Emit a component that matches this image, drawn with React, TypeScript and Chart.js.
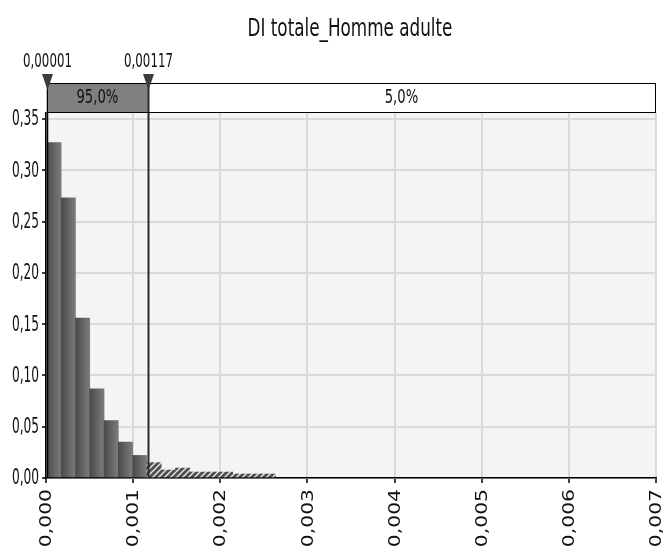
import React, { useEffect, useRef } from 'react';
import { Chart, registerables } from 'chart.js';

Chart.register(...registerables);

const TITLE = 'DI totale_Homme adulte';
const binStarts = [0.00001, 0.000174, 0.000338, 0.000502, 0.000666, 0.00083, 0.000994, 0.001158, 0.001322, 0.001486, 0.00165, 0.001814, 0.001978, 0.002142, 0.002306, 0.00247];
const binEnds = [0.000174, 0.000338, 0.000502, 0.000666, 0.00083, 0.000994, 0.001158, 0.001322, 0.001486, 0.00165, 0.001814, 0.001978, 0.002142, 0.002306, 0.00247, 0.002634];
const probabilities = [0.327, 0.273, 0.156, 0.087, 0.056, 0.035, 0.022, 0.015, 0.0078, 0.0097, 0.0058, 0.0058, 0.0058, 0.0039, 0.0039, 0.0039];
const xTickValues = [0, 0.001, 0.002, 0.003, 0.004, 0.005, 0.006, 0.007];
const yTickValues = [0, 0.05, 0.1, 0.15, 0.2, 0.25, 0.3, 0.35];
const markerValues = [0.00001, 0.00117];
const markerLabels = ['0,00001', '0,00117'];
const bandLabels = ['95,0%', '5,0%'];

const FONT = '"DejaVu Sans", Verdana, sans-serif';

function drawSquashed(ctx: CanvasRenderingContext2D, text: string, x: number, y: number, size: number, sx: number, align: CanvasTextAlign, baseline: CanvasTextBaseline, color = '#111') {
  ctx.save();
  ctx.font = `${size}px ${FONT}`;
  ctx.fillStyle = color;
  ctx.textAlign = align;
  ctx.textBaseline = baseline;
  ctx.translate(x, y);
  ctx.scale(sx, 1);
  ctx.fillText(text, 0, 0);
  ctx.restore();
}

export default function App() {
  const ref = useRef<HTMLCanvasElement | null>(null);

  useEffect(() => {
    document.body.style.margin = '0';
    const canvas = ref.current;
    if (!canvas) return;

    const pc = document.createElement('canvas');
    pc.width = 6;
    pc.height = 6;
    const p = pc.getContext('2d')!;
    p.fillStyle = '#505050';
    p.fillRect(0, 0, 6, 6);
    p.strokeStyle = 'rgba(255,255,255,0.9)';
    p.lineWidth = 1.3;
    p.beginPath();
    p.moveTo(0, 6); p.lineTo(6, 0);
    p.moveTo(-1, 1); p.lineTo(1, -1);
    p.moveTo(5, 7); p.lineTo(7, 5);
    p.stroke();
    const hatch = canvas.getContext('2d')!.createPattern(pc, 'repeat');

    const points = probabilities.map((v, i) => ({ x: (binStarts[i] + binEnds[i]) / 2, y: v }));

    const bgPlugin = {
      id: 'bg',
      beforeDraw(chart: any) {
        const { ctx, chartArea } = chart;
        ctx.save();
        ctx.fillStyle = '#ffffff';
        ctx.fillRect(0, 0, chart.width, chart.height);
        ctx.fillStyle = '#f4f4f4';
        ctx.fillRect(chartArea.left, chartArea.top, chartArea.right - chartArea.left, chartArea.bottom - chartArea.top);
        ctx.restore();
      },
    };

    const BAND_TOP = 83;
    const BAND_BOTTOM = 112;

    const overlayPlugin = {
      id: 'overlay',
      afterDatasetsDraw(chart: any) {
        const { ctx, chartArea, scales } = chart;
        const xs = scales.x;
        ctx.save();
        markerValues.forEach((v, i) => {
          const px = Math.round(xs.getPixelForValue(v)) + 0.5;
          ctx.strokeStyle = i === 0 ? '#000' : '#2a2a2a';
          ctx.lineWidth = i === 0 ? 1.5 : 2;
          ctx.beginPath();
          ctx.moveTo(px, BAND_TOP);
          ctx.lineTo(px, chartArea.bottom);
          ctx.stroke();
        });
        ctx.restore();
      },
      afterDraw(chart: any) {
        const { ctx, chartArea, scales } = chart;
        const xs = scales.x;
        const ys = scales.y;
        // title
        drawSquashed(ctx, TITLE, 350, 36, 24, 0.7, 'center', 'alphabetic', '#111');
        // band
        const m0 = xs.getPixelForValue(markerValues[0]);
        const m1 = xs.getPixelForValue(markerValues[1]);
        const right = chartArea.right - 1;
        ctx.save();
        ctx.fillStyle = '#ffffff';
        ctx.fillRect(m0, BAND_TOP, right - m0, BAND_BOTTOM - BAND_TOP);
        ctx.fillStyle = '#808080';
        ctx.fillRect(m0, BAND_TOP, m1 - m0, BAND_BOTTOM - BAND_TOP);
        ctx.strokeStyle = '#000';
        ctx.lineWidth = 1;
        ctx.strokeRect(Math.round(m0) + 0.5, BAND_TOP + 0.5, Math.round(right - m0), BAND_BOTTOM - BAND_TOP);
        ctx.beginPath();
        ctx.lineWidth = 2;
        ctx.strokeStyle = '#2a2a2a';
        ctx.moveTo(Math.round(m1) + 0.5, BAND_TOP);
        ctx.lineTo(Math.round(m1) + 0.5, BAND_BOTTOM);
        ctx.stroke();
        ctx.restore();
        drawSquashed(ctx, bandLabels[0], (m0 + m1) / 2, 98, 20, 0.66, 'center', 'middle');
        drawSquashed(ctx, bandLabels[1], (m1 + right) / 2, 98, 20, 0.66, 'center', 'middle');
        // markers
        markerValues.forEach((v, i) => {
          const px = Math.round(xs.getPixelForValue(v)) + 0.5;
          ctx.save();
          ctx.fillStyle = '#3c3c3c';
          ctx.beginPath();
          ctx.moveTo(px - 5.5, 74);
          ctx.lineTo(px + 5.5, 74);
          ctx.lineTo(px, 90);
          ctx.closePath();
          ctx.fill();
          ctx.restore();
          drawSquashed(ctx, markerLabels[i], px, 67, 20, 0.59, 'center', 'alphabetic');
        });
        // y labels
        yTickValues.forEach((v) => {
          const py = ys.getPixelForValue(v);
          drawSquashed(ctx, v.toFixed(2).replace('.', ','), chartArea.left - 7, py + 1, 21, 0.58, 'right', 'middle');
        });
        // x labels (rotated, reading upward)
        xTickValues.forEach((v) => {
          const px = xs.getPixelForValue(v);
          ctx.save();
          ctx.font = `16px ${FONT}`;
          ctx.fillStyle = '#111';
          ctx.textAlign = 'right';
          ctx.textBaseline = 'middle';
          ctx.translate(px + 1, chartArea.bottom + 11);
          ctx.rotate(-Math.PI / 2);
          ctx.scale(1.27, 1);
          ctx.fillText(v.toFixed(3).replace('.', ','), 0, 0);
          ctx.restore();
        });
      },
    };

    const chart = new Chart(canvas, {
      type: 'bar',
      data: {
        datasets: [
          {
            data: points as any,
            borderWidth: 0,
            barPercentage: 1,
            categoryPercentage: 1,
            backgroundColor: (c: any) => {
              const i = c.dataIndex;
              const xs = c.chart.scales?.x;
              if (i === undefined || !xs) return '#666666';
              const center = (binStarts[i] + binEnds[i]) / 2;
              if (center > markerValues[1]) return hatch as any;
              const l = xs.getPixelForValue(binStarts[i]);
              const r = xs.getPixelForValue(binEnds[i]);
              if (!isFinite(l) || !isFinite(r)) return '#666666';
              const g = c.chart.ctx.createLinearGradient(l, 0, r, 0);
              g.addColorStop(0, '#4a4a4a');
              g.addColorStop(1, '#7c7c7c');
              return g;
            },
          },
        ],
      },
      options: {
        animation: false,
        responsive: true,
        maintainAspectRatio: false,
        layout: { padding: { top: 113, right: 8, left: 0, bottom: 0 } },
        plugins: {
          legend: { display: false },
          tooltip: { enabled: false },
          title: { display: false },
        },
        scales: {
          x: {
            type: 'linear',
            min: 0,
            max: 0.007,
            offset: false,
            afterBuildTicks: (s: any) => {
              s.ticks = xTickValues.map((v) => ({ value: v }));
            },
            afterFit: (s: any) => {
              s.height = 74;
              s.paddingLeft = 0;
              s.paddingRight = 0;
              s.paddingTop = 0;
              s.paddingBottom = 0;
            },
            grid: { color: '#dadada', lineWidth: 2, tickColor: '#000', tickLength: 5, tickWidth: 1.5, offset: false },
            border: { color: '#000', width: 1.5 },
            ticks: { display: false },
          },
          y: {
            type: 'linear',
            min: 0,
            max: 0.3558,
            afterBuildTicks: (s: any) => {
              s.ticks = yTickValues.map((v) => ({ value: v }));
            },
            afterFit: (s: any) => {
              s.width = 46;
              s.paddingLeft = 0;
              s.paddingRight = 0;
              s.paddingTop = 0;
              s.paddingBottom = 0;
            },
            grid: { color: '#dadada', lineWidth: 2, tickColor: '#000', tickLength: 4, tickWidth: 1.5 },
            border: { color: '#000', width: 1.5 },
            ticks: { display: false },
          },
        },
      },
      plugins: [bgPlugin, overlayPlugin],
    });

    return () => chart.destroy();
  }, []);

  return (
    <div style={{ width: 664, height: 552, position: 'relative' }}>
      <canvas ref={ref} />
    </div>
  );
}
